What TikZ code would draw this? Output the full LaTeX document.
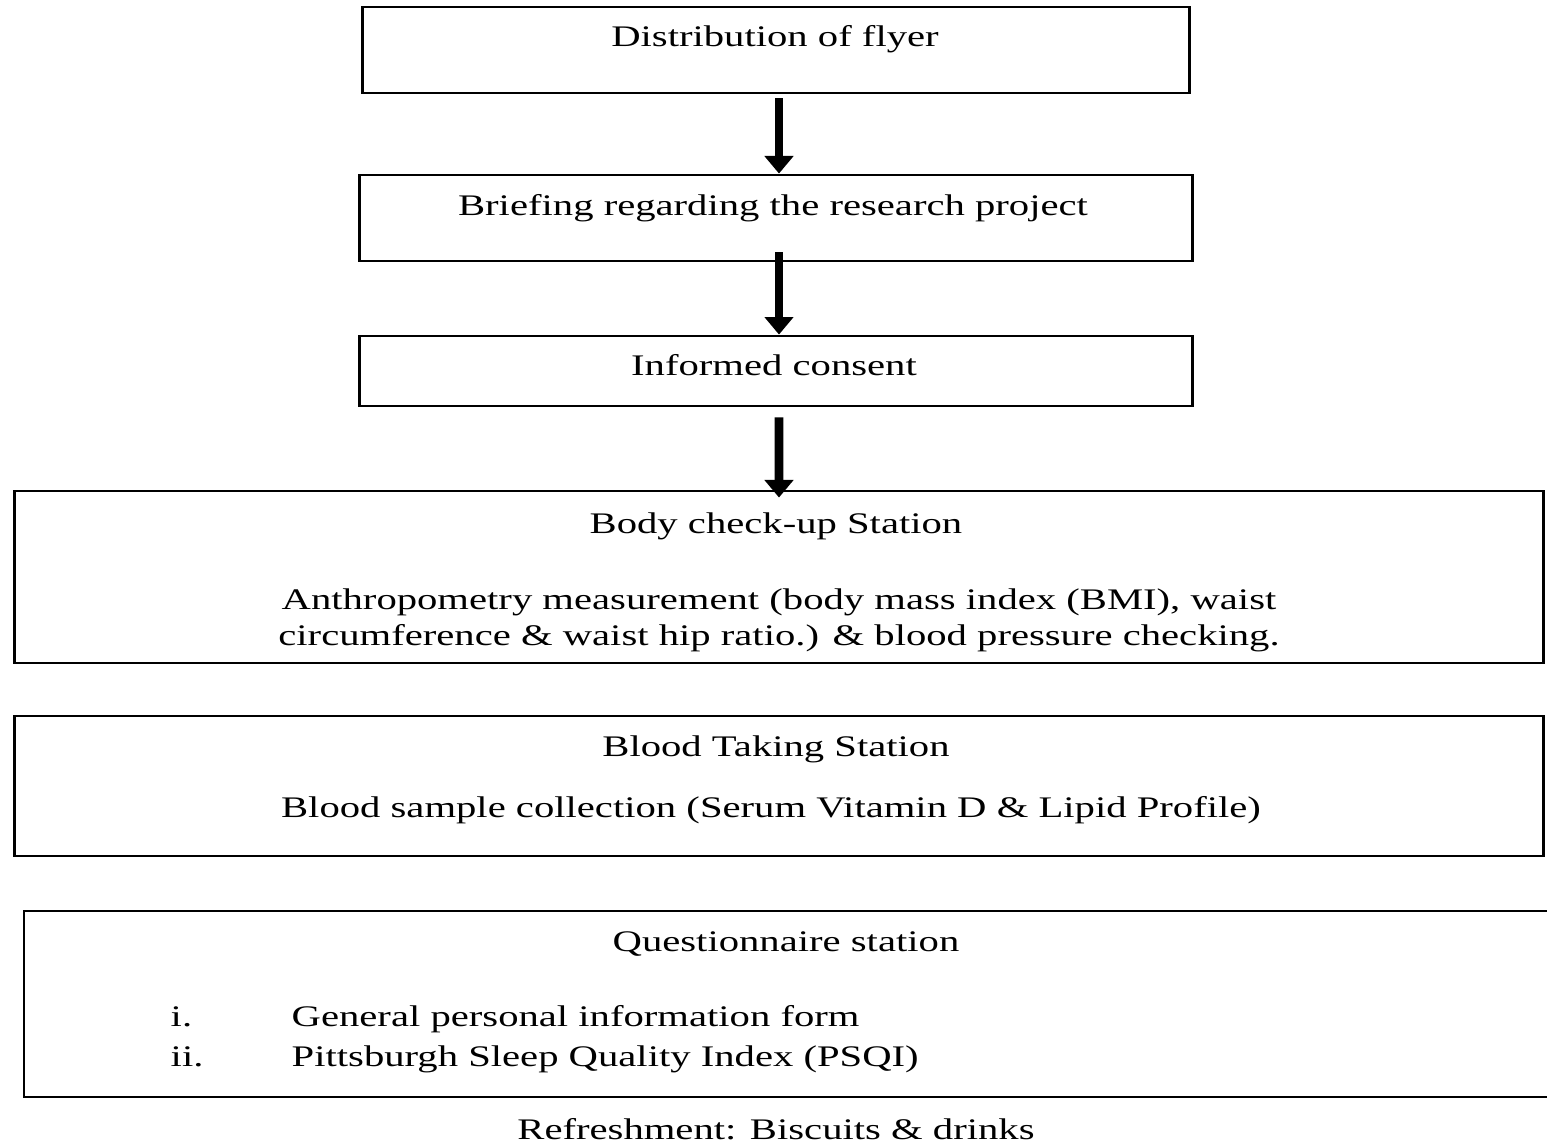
\documentclass[tikz,border=0pt]{standalone}
\usepackage{fontspec}
\setmainfont{Liberation Serif}[FakeStretch=1.36]
\usetikzlibrary{arrows.meta}
\begin{document}
\begin{tikzpicture}[x=0.01cm,y=-0.01cm,
    stepbox/.style={draw,line width=0.8pt,inner sep=0pt},
    flow/.style={line width=2.5pt,-{Triangle[width=8pt,length=5pt]}},
    txt/.style={anchor=base,inner sep=0pt,font=\fontsize{8.5}{10.2}\selectfont}]
    \clip (0,0) rectangle (1547,1144);
    % stations
    \node[stepbox,minimum width=8.26cm,minimum height=0.86cm] (flyer) at (776,50) {};
    \node[stepbox,minimum width=8.32cm,minimum height=0.86cm] (brief) at (776,218) {};
    \node[stepbox,minimum width=8.32cm,minimum height=0.70cm] (consent) at (776,371) {};
    \node[stepbox,minimum width=15.28cm,minimum height=1.72cm] (body) at (779,577) {};
    \node[stepbox,minimum width=15.28cm,minimum height=1.40cm] (blood) at (779,786) {};
    \node[stepbox,minimum width=15.75cm,minimum height=1.86cm] (quest) at (812,1004) {};
    % texts
    \node[txt] (flyertxt) at (775,46) {Distribution of flyer};
    \node[txt] (brieftxt) at (773,215) {Briefing regarding the research project};
    \node[txt] (consenttxt) at (774,375) {Informed consent};
    \node[txt] (bodytxt) at (776,533) {Body check-up Station};
    \node[txt] (anthroa) at (779,609) {Anthropometry measurement (body mass index (BMI), waist};
    \node[txt] (anthrob) at (779,645) {circumference \& waist hip ratio.) \& blood pressure checking.};
    \node[txt] (bloodtxt) at (776,756) {Blood Taking Station};
    \node[txt] (sample) at (771,817) {Blood sample collection (Serum Vitamin D \& Lipid Profile)};
    \node[txt] (questtxt) at (786,951) {Questionnaire station};
    \node[txt,anchor=base west] (itemi) at (170,1026) {i.};
    \node[txt,anchor=base west] (itemii) at (170,1066) {ii.};
    \node[txt,anchor=base west] (general) at (291,1026) {General personal information form};
    \node[txt,anchor=base west] (psqi) at (291,1066) {Pittsburgh Sleep Quality Index (PSQI)};
    \node[txt] (refresh) at (776,1139) {Refreshment: Biscuits \& drinks};
    % arrows
    \draw[flow] ([xshift=0.03cm,yshift=-0.04cm]flyer.south) -- ([xshift=0.03cm]brief.north);
    \draw[flow] ([xshift=0.03cm,yshift=0.1cm]brief.south) -- ([xshift=0.03cm]consent.north);
    \draw[flow] ([xshift=0.03cm,yshift=-0.1cm]consent.south) -- ([yshift=-0.08cm]body.north);
\end{tikzpicture}
\end{document}
